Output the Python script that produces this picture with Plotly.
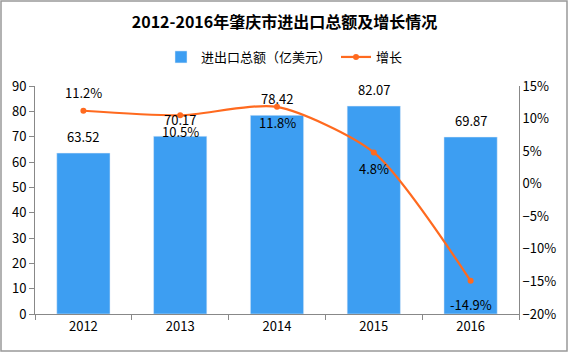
import plotly.graph_objects as go

years = ["2012", "2013", "2014", "2015", "2016"]
totals = [63.52, 70.17, 78.42, 82.07, 69.87]
growth = [11.2, 10.5, 11.8, 4.8, -14.9]
growth_above = [True, False, False, False, False]

W, H = 569, 353
ml, mr, mt, mb = 35, 50, 86, 39
pw, ph = W - ml - mr, H - mt - mb

font = "Noto Sans CJK SC"
fig = go.Figure()
fig.add_trace(go.Bar(
    x=years, y=totals, name="进出口总额（亿美元）",
    marker_color="#3D9EF2", width=0.55,
))
fig.add_trace(go.Scatter(
    x=years, y=growth, name="增长", yaxis="y2",
    mode="lines+markers",
    line=dict(color="#FF6A1F", width=2.2, shape="spline", smoothing=0.7),
    marker=dict(size=6, color="#FF6A1F"),
))

for i, v in enumerate(totals):
    fig.add_annotation(x=i, y=v, xref="x", yref="y", text=f"{v:.2f}",
                       showarrow=False, yshift=17, yanchor="middle",
                       font=dict(size=13, color="#000", family=font))
for i, (g, up) in enumerate(zip(growth, growth_above)):
    fig.add_annotation(x=i, y=g, xref="x", yref="y2", text=f"{g:.1f}%",
                       showarrow=False, yshift=18 if up else -16 if g > 0 else -24,
                       yanchor="middle",
                       font=dict(size=13, color="#000", family=font))

fig.update_layout(
    width=W, height=H,
    margin=dict(l=ml, r=mr, t=mt, b=mb, autoexpand=False),
    paper_bgcolor="white", plot_bgcolor="white",
    font=dict(family=font, color="#000", size=13),
    title=dict(text="<b>2012-2016年肇庆市进出口总额及增长情况</b>",
               x=0.5, xanchor="center", xref="container",
               y=1 - 22 / H, yanchor="middle", yref="container",
               font=dict(size=16, color="#000", family=font)),
    legend=dict(orientation="h", x=0.5, xanchor="center", xref="container",
                y=1 - 57 / H, yanchor="middle", yref="container",
                font=dict(size=13), itemwidth=30),
    xaxis=dict(type="category", categoryorder="array", categoryarray=years,
               showline=True, linecolor="#888", linewidth=1,
               ticks="outside", tickson="boundaries", ticklen=5, tickcolor="#888",
               showgrid=False, tickfont=dict(size=13), range=[-0.5, 4.5]),
    yaxis=dict(range=[0, 90], dtick=10, showline=True, linecolor="#888", linewidth=1,
               ticks="outside", ticklen=5, tickcolor="#888", showgrid=False,
               zeroline=False, tickfont=dict(size=13)),
    yaxis2=dict(range=[-20, 15], dtick=5, overlaying="y", side="right",
                showline=True, linecolor="#888", linewidth=1, ticks="",
                showgrid=False, zeroline=False, ticksuffix="%",
                tickfont=dict(size=13)),
)

fig.add_shape(type="rect", xref="paper", yref="paper",
              x0=(1 - ml) / pw, x1=(567 - ml) / pw,
              y0=(mt + ph - 351) / ph, y1=(mt + ph - 1) / ph,
              line=dict(color="#999", width=1.5), layer="below")

fig.write_html("out.html")
